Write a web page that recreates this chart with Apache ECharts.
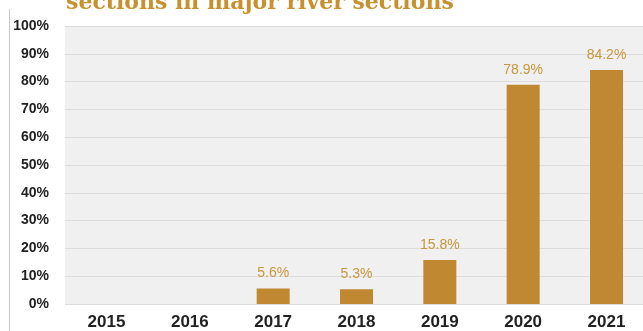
<!DOCTYPE html>
<html>
<head>
<meta charset="utf-8">
<script src="https://cdn.jsdelivr.net/npm/echarts@6/dist/echarts.min.js"></script>
<style>
  html, body { margin: 0; padding: 0; background: #fff; }
  #chart { width: 643px; height: 331px; }
</style>
</head>
<body>
<div id="chart"></div>
<script>
// Share of monitored sections meeting the standard, by year
const years = ['2015', '2016', '2017', '2018', '2019', '2020', '2021'];
const shares = [null, null, 5.6, 5.3, 15.8, 78.9, 84.2];
const titleText = 'sections in major river sections';

const labelFont = '"Liberation Sans", Arial, sans-serif';

const chart = echarts.init(document.getElementById('chart'), null, { renderer: 'canvas' });

chart.setOption({
  animation: false,
  backgroundColor: '#ffffff',
  grid: [
    // panel with the shaded background, gridlines and percent labels
    { left: 65, top: 26, right: 0, bottom: 27, show: true, backgroundColor: '#f0f0f0', borderWidth: 0 },
    // bar placement: year ticks sit on the panel's category centres
    { left: 106.5, top: 26, right: 36.5, bottom: 27 }
  ],
  graphic: [
    {
      type: 'line',
      shape: { x1: 9.5, y1: 9, x2: 9.5, y2: 331 },
      style: { stroke: '#c8c8c8', lineWidth: 1 }
    },
    {
      type: 'text',
      left: 66,
      top: -8,
      style: {
        text: titleText,
        font: 'bold 22px "DejaVu Serif", serif',
        fill: '#c8912f'
      }
    }
  ],
  xAxis: [
    { type: 'category', gridIndex: 0, data: years, show: false },
    {
      type: 'category',
      gridIndex: 1,
      data: years,
      boundaryGap: false,
      axisLine: { show: false },
      axisTick: { show: false },
      splitLine: { show: false },
      axisLabel: {
        margin: 10,
        color: '#222',
        fontSize: 17,
        fontWeight: 'bold',
        fontFamily: labelFont
      }
    }
  ],
  yAxis: [
    {
      type: 'value',
      gridIndex: 0,
      min: 0,
      max: 100,
      interval: 10,
      axisLine: { show: false },
      axisTick: { show: false },
      splitLine: { lineStyle: { color: '#dcdcdc', width: 1 } },
      axisLabel: {
        margin: 16,
        formatter: '{value}%',
        color: '#222',
        fontSize: 14,
        fontWeight: 'bold',
        fontFamily: labelFont
      }
    },
    { type: 'value', gridIndex: 1, min: 0, max: 100, interval: 10, show: false, splitLine: { show: false } }
  ],
  series: [
    {
      type: 'bar',
      xAxisIndex: 1,
      yAxisIndex: 1,
      data: shares,
      barWidth: 33,
      clip: false,
      itemStyle: { color: '#c08830' },
      label: {
        show: true,
        position: 'top',
        distance: 8,
        formatter: (p) => p.value == null ? '' : p.value.toFixed(1) + '%',
        color: '#c8963c',
        fontSize: 14,
        fontFamily: labelFont
      }
    }
  ]
});
</script>
</body>
</html>
